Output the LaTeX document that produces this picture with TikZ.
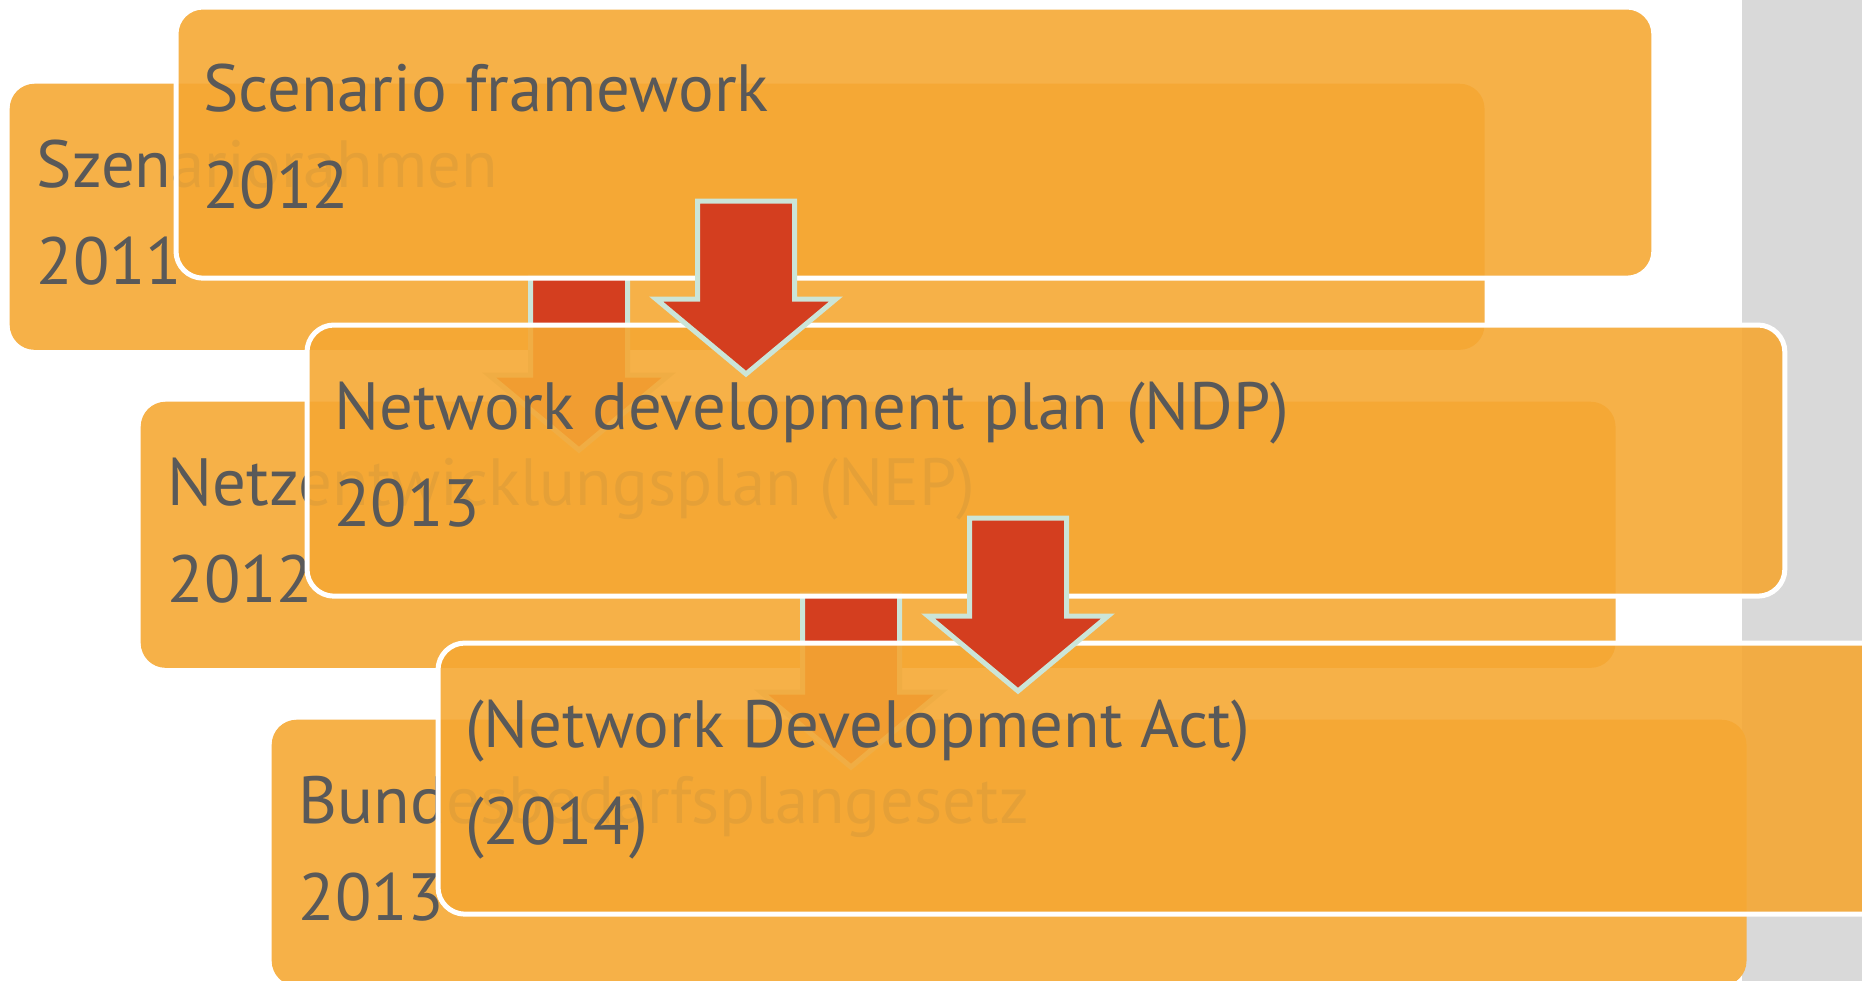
\documentclass[tikz,border=0pt]{standalone}
\usepackage{fontspec}
\setmainfont{PT Sans}
\usepackage{tikz}
\definecolor{boxorange}{RGB}{245,168,52}
\definecolor{txtgray}{RGB}{89,89,89}
\definecolor{arrred}{RGB}{212,62,31}
\definecolor{arrmint}{RGB}{203,229,216}
\tikzset{
	backbox/.style={fill=boxorange!90!white, rounded corners=0.25cm, minimum width=14.74cm,
		minimum height=2.66cm, inner sep=0pt, anchor=north west},
	frontbox/.style={fill=boxorange, fill opacity=0.9, draw=white, line width=0.05cm,
		rounded corners=0.27cm, minimum width=14.77cm, minimum height=2.71cm, inner sep=0pt,
		anchor=north west},
	boxtext/.style={text=txtgray, font=\fontsize{19}{23}\selectfont, inner sep=0pt,
		anchor=base west},
	downarrow/.pic={
		\filldraw[fill=arrred, draw=arrmint, line width=0.05cm]
			(-48.5,0) -- (48.5,0) -- (48.5,98) -- (90,98) -- (0,173) -- (-90,98) -- (-48.5,98) -- cycle;
	}
}
\begin{document}
\begin{tikzpicture}[x=0.01cm,y=-0.01cm]
	\useasboundingbox (0,0) rectangle (1862,981);
	\clip (0,0) rectangle (1862,981);
	\fill[gray!30] (1742,0) rectangle (1862,981);
	\node[backbox] (szen) at (9,83) {};
	\node[backbox] (nep) at (140,401) {};
	\node[backbox] (bbpg) at (271,719) {};
	\path ([shift={(27,104)}]szen.north west) node[boxtext] (szen-a) {Szenariorahmen}
		++(0,97) node[boxtext] (szen-b) {2011};
	\path ([shift={(27,104)}]nep.north west) node[boxtext] (nep-a) {Netzentwicklungsplan (NEP)}
		++(0,97) node[boxtext] (nep-b) {2012};
	\path ([shift={(27,104)}]bbpg.north west) node[boxtext] (bbpg-a) {Bundesbedarfsplangesetz}
		++(0,97) node[boxtext] (bbpg-b) {2013};
	\pic (szen-arr) at (579,277) {downarrow};
	\pic (nep-arr) at (851,594) {downarrow};
	\node[frontbox] (scen) at (173.5,4.5) {};
	\node[frontbox] (ndp) at (304.5,322.5) {};
	\node[frontbox] (nda) at (435.5,640.5) {};
	\path ([shift={(29,106.5)}]scen.north west) node[boxtext] (scen-a) {Scenario framework}
		++(0,97) node[boxtext] (scen-b) {2012};
	\path ([shift={(29,106.5)}]ndp.north west) node[boxtext] (ndp-a) {Network development plan (NDP)}
		++(0,97) node[boxtext] (ndp-b) {2013};
	\path ([shift={(29,106.5)}]nda.north west) node[boxtext] (nda-a) {(Network Development Act)}
		++(0,97) node[boxtext] (nda-b) {(2014)};
	\pic (scen-arr) at (746,201) {downarrow};
	\pic (ndp-arr) at (1018,518) {downarrow};
\end{tikzpicture}
\end{document}
